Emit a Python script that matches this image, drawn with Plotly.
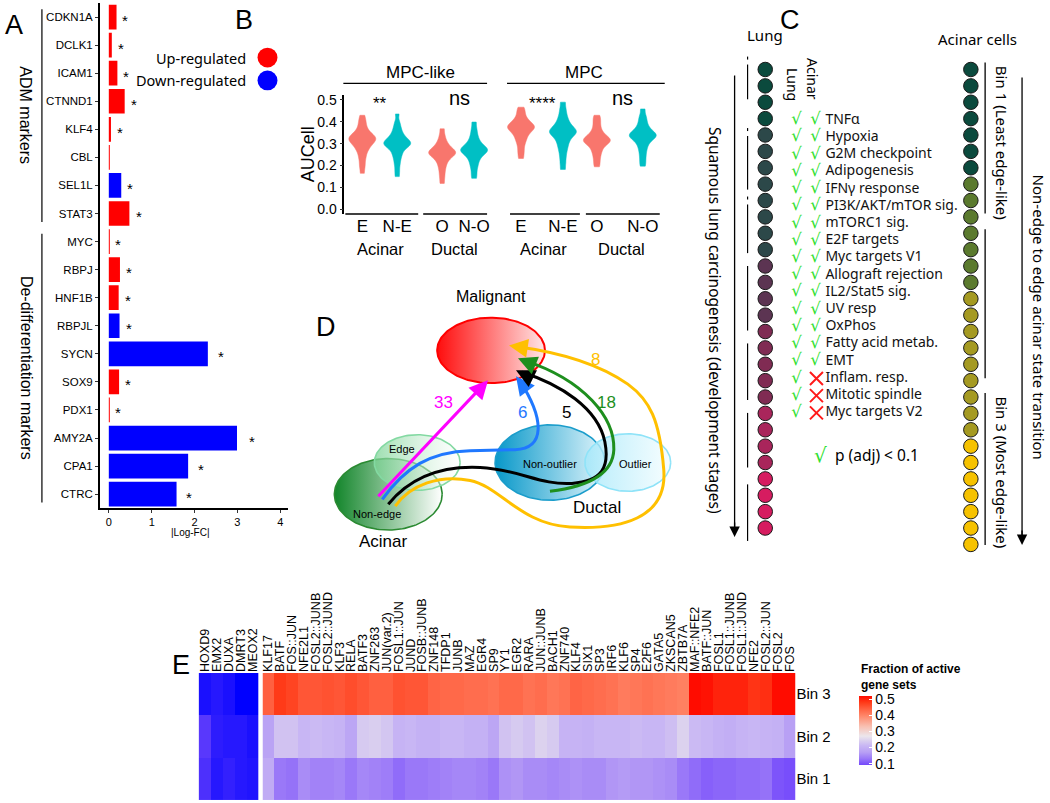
import numpy as np
import plotly.graph_objects as go

W, H = 1050, 803

# ---------------- Panel A data ----------------
genes_A = ['CDKN1A', 'DCLK1', 'ICAM1', 'CTNND1', 'KLF4', 'CBL', 'SEL1L', 'STAT3',
           'MYC', 'RBPJ', 'HNF1B', 'RBPJL', 'SYCN', 'SOX9', 'PDX1', 'AMY2A', 'CPA1', 'CTRC']
logfc_A = [0.18, 0.07, 0.20, 0.37, 0.05, 0.02, 0.29, 0.48, 0.01, 0.26, 0.23, 0.25,
           2.31, 0.24, 0.02, 2.99, 1.85, 1.58]
regulation_A = ['Up', 'Up', 'Up', 'Up', 'Up', 'Up', 'Down', 'Up', 'Up', 'Up', 'Up', 'Down',
                'Down', 'Up', 'Up', 'Down', 'Down', 'Down']
signif_A = ['*', '*', '*', '*', '*', '', '*', '*', '*', '*', '*', '*', '*', '*', '*', '*', '*', '*']
group_names_A = ['ADM markers', 'De-differentiation markers']
group_first_A = ['CDKN1A', 'MYC']
group_last_A = ['STAT3', 'CTRC']
xticks_A = [0, 1, 2, 3, 4]

facets_B = ['MPC-like', 'MPC']
groups_B = ['Acinar', 'Ductal']
ticklabels_B = ['E', 'N-E', 'O', 'N-O', 'E', 'N-E', 'O', 'N-O']
mpclike_E = [0.164, 0.19, 0.21, 0.23, 0.245, 0.26, 0.27, 0.28, 0.287, 0.294, 0.30, 0.305, 0.31, 0.314,
             0.318, 0.322, 0.326, 0.33, 0.334, 0.338, 0.343, 0.35, 0.358, 0.368, 0.38, 0.395, 0.41, 0.43]
mpclike_NE = [0.149, 0.175, 0.20, 0.22, 0.237, 0.25, 0.262, 0.272, 0.28, 0.286, 0.291, 0.295, 0.299,
              0.302, 0.306, 0.31, 0.315, 0.32, 0.326, 0.333, 0.342, 0.352, 0.365, 0.38, 0.40, 0.436]
mpclike_O = [0.118, 0.145, 0.168, 0.188, 0.204, 0.217, 0.228, 0.236, 0.243, 0.248, 0.252, 0.256, 0.26,
             0.264, 0.268, 0.273, 0.279, 0.286, 0.295, 0.306, 0.32, 0.34, 0.368]
mpclike_NO = [0.141, 0.165, 0.188, 0.205, 0.22, 0.232, 0.242, 0.25, 0.256, 0.262, 0.266, 0.27, 0.274,
              0.278, 0.283, 0.289, 0.296, 0.305, 0.316, 0.33, 0.348, 0.37, 0.399]
mpc_E = [0.232, 0.255, 0.275, 0.295, 0.31, 0.322, 0.333, 0.342, 0.35, 0.357, 0.363, 0.368, 0.372, 0.376,
         0.38, 0.384, 0.389, 0.395, 0.402, 0.41, 0.42, 0.435, 0.45, 0.467]
mpc_NE = [0.182, 0.21, 0.235, 0.257, 0.275, 0.29, 0.303, 0.315, 0.325, 0.333, 0.34, 0.346, 0.351, 0.355,
          0.36, 0.365, 0.371, 0.378, 0.386, 0.396, 0.408, 0.422, 0.44, 0.462, 0.49]
mpc_O = [0.194, 0.215, 0.235, 0.252, 0.266, 0.278, 0.288, 0.296, 0.302, 0.307, 0.311, 0.315, 0.319,
         0.323, 0.328, 0.334, 0.341, 0.35, 0.362, 0.377, 0.395, 0.412, 0.43]
mpc_NO = [0.197, 0.22, 0.242, 0.262, 0.279, 0.293, 0.305, 0.314, 0.321, 0.327, 0.332, 0.336, 0.34,
          0.344, 0.349, 0.355, 0.362, 0.371, 0.382, 0.396, 0.412, 0.43, 0.459]
samples_B = [mpclike_E, mpclike_NE, mpclike_O, mpclike_NO, mpc_E, mpc_NE, mpc_O, mpc_NO]
edge_class_B = ['edge', 'non', 'edge', 'non', 'edge', 'non', 'edge', 'non']
signif_B = ['**', 'ns', '****', 'ns']

# ---------------- Panel C data ----------------
lung_stage = [1, 1, 1, 1, 2, 2, 2, 2, 2, 2, 2, 2, 3, 3, 3, 3, 4, 4, 4, 4, 4, 5, 5, 5, 5, 6, 6, 6, 6]
acinar_bin = [1, 1, 1, 1, 1, 1, 1, 2, 2, 2, 2, 2, 2, 2, 3, 3, 3, 3, 3, 3, 3, 3, 3,
              4, 4, 4, 4, 4, 4, 4]
gene_sets = ['TNFα', 'Hypoxia', 'G2M checkpoint', 'Adipogenesis', 'IFNγ response',
             'PI3K/AKT/mTOR sig.', 'mTORC1 sig.', 'E2F targets', 'Myc targets V1',
             'Allograft rejection', 'IL2/Stat5 sig.', 'UV resp', 'OxPhos', 'Fatty acid metab.',
             'EMT', 'Inflam. resp.', 'Mitotic spindle', 'Myc targets V2']
sig_lung = [True, True, True, True, True, True, True, True, True, True, True, True, True, True,
            True, True, True, True]
sig_acinar = [True, True, True, True, True, True, True, True, True, True, True, True, True, True,
              True, False, False, False]

# ---------------- Panel D data ----------------
transition_counts = {'magenta': 33, 'blue': 6, 'black': 5, 'green': 18, 'yellow': 8}

# ---------------- Panel E data ----------------
bins_E = ['Bin 1', 'Bin 2', 'Bin 3']
tf_down = ['HOXD9', 'EMX2', 'DUXA', 'DMRT3', 'MEOX2']
tf_up = ['KLF17', 'BATF', 'FOS::JUN', 'NFE2L1', 'FOSL2::JUNB', 'FOSL2::JUND', 'KLF3', 'RELA',
         'BATF3', 'ZNF263', 'JUN(var.2)', 'FOSL1::JUN', 'JUND', 'FOSB::JUNB', 'ZNF148', 'TFDP1',
         'JUNB', 'MAZ', 'EGR4', 'SP9', 'YY1', 'EGR2', 'RARA', 'JUN::JUNB', 'BACH1', 'ZNF740',
         'KLF4', 'SIX1', 'SP3', 'IRF6', 'KLF6', 'SP4', 'E2F6', 'GATA5', 'ZKSCAN5', 'ZBTB7A',
         'MAF::NFE2', 'BATF::JUN', 'FOSL1', 'FOSL1::JUNB', 'FOSL1::JUND', 'NFE2', 'FOSL2::JUN',
         'FOSL2', 'FOS']
down_bin1 = [0.06, 0.03, 0.04, 0.03, 0.025]
down_bin2 = [0.07, 0.035, 0.03, 0.03, 0.02]
down_bin3 = [0.02, 0.03, 0.02, 0.0, 0.0]
up_bin3 = [0.44, 0.48, 0.47, 0.45, 0.45, 0.455, 0.45, 0.46, 0.45, 0.44, 0.44, 0.455, 0.45, 0.45,
           0.435, 0.43, 0.43, 0.425, 0.425, 0.42, 0.43, 0.43, 0.42, 0.425, 0.415, 0.42, 0.435,
           0.43, 0.425, 0.42, 0.41, 0.415, 0.42, 0.415, 0.41, 0.405, 0.52, 0.515, 0.50, 0.50,
           0.50, 0.485, 0.49, 0.52, 0.52]
up_bin2 = [0.175, 0.225, 0.225, 0.21, 0.215, 0.21, 0.205, 0.18, 0.235, 0.24, 0.23, 0.205, 0.21,
           0.20, 0.20, 0.21, 0.21, 0.20, 0.20, 0.18, 0.225, 0.235, 0.225, 0.245, 0.235, 0.205,
           0.205, 0.20, 0.21, 0.21, 0.21, 0.215, 0.21, 0.21, 0.22, 0.245, 0.215, 0.21, 0.20,
           0.195, 0.205, 0.21, 0.205, 0.20, 0.17]
up_bin1 = [0.19, 0.13, 0.125, 0.15, 0.14, 0.14, 0.145, 0.13, 0.145, 0.14, 0.135, 0.12, 0.13, 0.13,
           0.135, 0.14, 0.145, 0.145, 0.14, 0.13, 0.155, 0.16, 0.15, 0.15, 0.145, 0.15, 0.155,
           0.15, 0.15, 0.16, 0.165, 0.16, 0.16, 0.155, 0.15, 0.13, 0.12, 0.11, 0.115, 0.115, 0.12,
           0.12, 0.125, 0.10, 0.095]
cbar_ticks_E = [0.1, 0.2, 0.3, 0.4, 0.5]

# ---------------- helpers ----------------
ARIAL = 'Liberation Sans, Arial, sans-serif'
NOTO = 'Noto Sans, Open Sans, sans-serif'


def dx(a, b):
    return [a / W, b / W]


def dy(top, bottom):
    return [1 - bottom / H, 1 - top / H]


fig = go.Figure()
shapes = []
annos = []


def ptext(x, y, text, size=14, color='black', family=ARIAL, angle=0, xanchor='center', **kw):
    annos.append(dict(x=x, y=y, xref='x7', yref='y7', text=text, showarrow=False,
                      font=dict(size=size, color=color, family=family), textangle=angle,
                      xanchor=xanchor, yanchor='middle', **kw))


def pline(x0, y0, x1, y1, color='black', width=1.2):
    shapes.append(dict(type='line', x0=x0, y0=y0, x1=x1, y1=y1, xref='x7', yref='y7',
                       line=dict(color=color, width=width)))


def parrow(x, y, tx, ty, color, width=3, size=1.2):
    annos.append(dict(x=x, y=y, ax=tx, ay=ty, xref='x7', yref='y7', axref='x7', ayref='y7',
                      text='', showarrow=True, arrowhead=2, arrowsize=size, arrowwidth=width,
                      arrowcolor=color, standoff=0))


# ================= Panel A =================
reg_colors = {'Up': '#ff0000', 'Down': '#0000ff'}
fig.add_trace(go.Bar(x=logfc_A, y=genes_A, orientation='h', width=0.88,
                     marker=dict(color=[reg_colors[r] for r in regulation_A], line_width=0),
                     xaxis='x', yaxis='y', hoverinfo='skip', showlegend=False))
for g, v, s in zip(genes_A, logfc_A, signif_A):
    if s:
        annos.append(dict(x=v * 1.05 + 0.2, y=g, xref='x', yref='y', text=s, showarrow=False,
                          xanchor='center', font=dict(size=15, family=ARIAL), yshift=-3))
for name, g0, g1 in zip(group_names_A, group_first_A, group_last_A):
    i0, i1 = genes_A.index(g0), genes_A.index(g1)
    shapes.append(dict(type='line', xref='paper', yref='y', x0=41 / W, x1=41 / W,
                       y0=i0 - 0.28, y1=i1 + 0.3, line=dict(color='black', width=1.2)))
    annos.append(dict(x=25 / W, y=(i0 + i1) / 2, xref='paper', yref='y', text=name,
                      xanchor='center', yanchor='middle',
                      showarrow=False, textangle=90, font=dict(size=16, family=ARIAL)))
annos.append(dict(x=190 / W, y=1 - 533 / H, xref='paper', yref='paper', text='|Log-FC|',
                  xanchor='center', yanchor='middle',
                  showarrow=False, font=dict(size=10, family=ARIAL)))
# legend
for lab, yy in [('Up', 55), ('Down', 78)]:
    ptext(247, yy, lab + '-regulated', size=14.5, family=NOTO, xanchor='right')
    shapes.append(dict(type='circle', xref='x7', yref='y7', x0=257, x1=277, y0=yy - 10, y1=yy + 10,
                       fillcolor=reg_colors[lab], line=dict(width=0)))

# ================= Panel B =================
pos_B = [362, 397, 442, 474, 521, 563, 597, 643]
col_B = {'edge': '#F8766D', 'non': '#00BFC4'}
for p, vals, cls in zip(pos_B, samples_B, edge_class_B):
    fig.add_trace(go.Violin(x=[p] * len(vals), y=vals, xaxis='x2', yaxis='y2', width=27,
                            spanmode='hard', points=False, bandwidth=0.014,
                            fillcolor=col_B[cls], line=dict(color=col_B[cls], width=0.5),
                            opacity=1, hoverinfo='skip', showlegend=False, scalemode='width'))
# facet strips
for name, cx, x0, x1 in zip(facets_B, [420, 584], [343, 507], [487, 665]):
    ptext(cx, 70, name, size=17)
    pline(x0, 81, x1, 81, width=1.3)
# sub-group axis lines and labels
for (x0, x1), g in zip([(345, 418), (423, 487), (510, 580), (586, 660)], groups_B * 2):
    pline(x0, 212.7, x1, 212.7, width=1.5)
    ptext((x0 + x1) / 2 - 1, 248, g, size=16.5)
for s, cx in zip(signif_B, [380, 459, 543, 623]):
    if s == 'ns':
        ptext(cx, 96, s, size=20)
    else:
        ptext(cx, 101, s, size=17)
ptext(307, 152, 'AUCell', size=18, angle=-90)

# ================= Panel C =================
stage_colors = {1: '#0b4a3d', 2: '#2c4849', 3: '#5c3452', 4: '#802b53', 5: '#a9255b', 6: '#d61c60'}
bin_colors = {1: '#0b4a3d', 2: '#5b7a2e', 3: '#a59a22', 4: '#f6c200'}
fig.add_trace(go.Scatter(x=[765.7] * len(lung_stage), y=list(range(len(lung_stage))), mode='markers',
                         marker=dict(size=14.5, color=[stage_colors[s] for s in lung_stage],
                                     line=dict(color='#1a1a1a', width=1)),
                         xaxis='x3', yaxis='y3', hoverinfo='skip', showlegend=False))
fig.add_trace(go.Scatter(x=[971.7] * len(acinar_bin), y=list(range(len(acinar_bin))), mode='markers',
                         marker=dict(size=14.5, color=[bin_colors[b] for b in acinar_bin],
                                     line=dict(color='#1a1a1a', width=1)),
                         xaxis='x3', yaxis='y3', hoverinfo='skip', showlegend=False))
rows = list(range(len(gene_sets)))
fig.add_trace(go.Scatter(x=[826] * len(gene_sets), y=rows, mode='text', text=gene_sets,
                         textposition='middle right',
                         textfont=dict(size=14, family=NOTO, color='#111'),
                         xaxis='x4', yaxis='y4', hoverinfo='skip', showlegend=False))
GREEN = '#2fe02f'
fig.add_trace(go.Scatter(x=[797] * sum(sig_lung), y=[r for r, s in zip(rows, sig_lung) if s],
                         mode='text', text=['√'] * sum(sig_lung),
                         textfont=dict(size=16.5, family='DejaVu Sans', color=GREEN),
                         xaxis='x4', yaxis='y4', hoverinfo='skip', showlegend=False))
fig.add_trace(go.Scatter(x=[816] * sum(sig_acinar), y=[r for r, s in zip(rows, sig_acinar) if s],
                         mode='text', text=['√'] * sum(sig_acinar),
                         textfont=dict(size=16.5, family='DejaVu Sans', color=GREEN),
                         xaxis='x4', yaxis='y4', hoverinfo='skip', showlegend=False))
fig.add_trace(go.Scatter(x=[817] * (len(rows) - sum(sig_acinar)),
                         y=[r for r, s in zip(rows, sig_acinar) if not s], mode='markers',
                         marker=dict(symbol='x-thin-open', size=13, color='#ff1a1a',
                                     line=dict(color='#ff1a1a', width=2)),
                         xaxis='x4', yaxis='y4', hoverinfo='skip', showlegend=False))
ptext(765, 32, 'Lung', size=15, family=NOTO)
ptext(978, 36, 'Acinar cells', size=15, family=NOTO)
ptext(793, 82, 'Lung', size=14, family=NOTO, angle=90)
ptext(813, 77, 'Acinar', size=14, family=NOTO, angle=90)
ptext(821, 455, '√', size=20, family='DejaVu Sans', color=GREEN)
ptext(834, 455, 'p (adj) < 0.1', size=15.5, family=NOTO, xanchor='left')
ptext(1003, 141, 'Bin 1 (Least edge-like)', size=15, family=NOTO, angle=90)
ptext(1002, 473, 'Bin 3 (Most edge-like)', size=15, family=NOTO, angle=90)
ptext(1040, 316, 'Non-edge to edge acinar state transition', size=15, family=NOTO, angle=90)
ptext(716, 320, 'Squamous lung carcinogenesis (development stages)', size=15.5, family=NOTO, angle=90)
for y0, y1 in [(60, 212), (228, 378), (393, 546)]:
    pline(986, y0, 986, y1, width=1.3)
pline(1023, 75, 1023, 536, width=1.3)
parrow(1023, 546, 1023, 530, 'black', width=1.3, size=1.6)
pline(735, 73, 735, 528, width=1.3)
parrow(735, 538, 735, 522, 'black', width=1.3, size=1.6)
for y0, y1 in [(54, 57), (62, 97), (126, 129), (134, 188), (195, 198), (203, 252), (265, 330),
               (343, 400), (413, 468), (485, 542)]:
    pline(748, y0, 748, y1, width=1.2)

# ================= Panel D =================
def ellipse(cx, cy, rx, ry, n=160):
    t = np.linspace(0, 2 * np.pi, n)
    return cx + rx * np.cos(t), cy + ry * np.sin(t)


ell_specs = [
    (388, 495, 54, 36, ['#12852a', '#ffffff'], '#2b8a32'),
    (417, 463, 43, 28, ['rgba(125,212,150,0.75)', 'rgba(255,255,255,0.45)'], '#83d9a2'),
    (550, 463, 55, 38, ['#0898c9', '#dff4fb'], '#1b9dcb'),
    (628, 463, 43, 29, ['rgba(165,232,250,0.8)', 'rgba(245,253,255,0.8)'], '#8fe3f8'),
    (491, 350, 54, 33, ['#ff0d0d', '#ffe6e6'], '#ff0000'),
]
for cx, cy, rx, ry, grad, lc in ell_specs:
    ex, ey = ellipse(cx, cy, rx, ry)
    fig.add_trace(go.Scatter(x=ex, y=ey, mode='lines', fill='toself',
                             fillgradient=dict(type='horizontal', colorscale=[[0, grad[0]], [1, grad[1]]]),
                             line=dict(color=lc, width=2 if lc == '#ff0000' else 1.6),
                             xaxis='x7', yaxis='y7', hoverinfo='skip', showlegend=False))

paths = {
    'magenta': ('#ff00ff', 'M 378 497 L 484 384', (488, 380), (478, 391)),
    'blue': ('#1f78ff', 'M 382 500 C 405 468 430 452 470 451 L 515 450 C 545 449 545 420 520 381',
             (516, 376), (525, 388)),
    'black': ('#000000', 'M 388 505 C 410 478 440 466 480 468 C 520 470 540 486 572 484 '
              'C 602 482 610 468 605 442 C 598 408 560 384 522 372', (516, 370), (528, 376)),
    'green': ('#1e8f1e', 'M 550 492 C 582 488 613 478 614 450 C 615 418 585 380 524 360',
              (518, 358), (530, 363)),
    'yellow': ('#ffc000', 'M 395 507 C 410 485 440 475 470 481 C 500 487 520 525 570 528 '
               'C 620 531 668 520 664 470 C 660 420 650 400 628 384 C 600 364 560 352 516 346',
               (509, 345), (522, 347)),
}
for key, (c, pth, tip, tail) in paths.items():
    shapes.append(dict(type='path', path=pth, xref='x7', yref='y7', line=dict(color=c, width=3)))
    parrow(tip[0], tip[1], tail[0], tail[1], c, width=3, size=1.25)
label_pos = {'magenta': (443, 402), 'blue': (522, 413), 'black': (567, 413), 'green': (607, 402),
             'yellow': (596, 359)}
for key, n in transition_counts.items():
    ptext(label_pos[key][0], label_pos[key][1], str(n), size=17, color=paths[key][0])
ptext(491, 296, 'Malignant', size=16)
ptext(402, 449, 'Edge', size=11)
ptext(377, 515, 'Non-edge', size=11)
ptext(383, 543, 'Acinar', size=17)
ptext(550, 464, 'Non-outlier', size=11)
ptext(636, 464, 'Outlier', size=11)
ptext(597, 508, 'Ductal', size=17)

# ================= Panel E =================
cs_vals = [0.09, 0.13, 0.17, 0.21, 0.245, 0.27, 0.33, 0.40, 0.44, 0.48, 0.52]
cs_cols = ['#7348fb', '#9a78f8', '#b8a0f4', '#c8b6f4', '#dcd2ee', '#ece6ec', '#f8c0b2', '#ff8466',
           '#ff6040', '#ff3a18', '#ff0c00']
zmin_E, zmax_E = 0.09, 0.52
colorscale_E = [[(v - zmin_E) / (zmax_E - zmin_E), c] for v, c in zip(cs_vals, cs_cols)]
fig.add_trace(go.Heatmap(z=[down_bin1, down_bin2, down_bin3], x=tf_down, y=bins_E,
                         colorscale=[[0, '#0000ff'], [1, '#7348fb']], zmin=0, zmax=zmin_E,
                         showscale=False, xaxis='x5', yaxis='y5', hoverinfo='skip'))
fig.add_trace(go.Heatmap(z=[up_bin1, up_bin2, up_bin3], x=tf_up, y=bins_E,
                         colorscale=colorscale_E, zmin=zmin_E, zmax=zmax_E,
                         xaxis='x6', yaxis='y6', hoverinfo='skip',
                         colorbar=dict(x=860 / W, xanchor='left', y=1 - 733.2 / H, yanchor='middle',
                                       len=69, lenmode='pixels', thickness=13, ypad=0, xpad=0,
                                       outlinewidth=0, tickvals=cbar_ticks_E, ticks='inside',
                                       tickcolor='white', ticklen=3,
                                       tickfont=dict(size=14, family=ARIAL))))
annos.append(dict(x=860 / W, y=1 - 679 / H, xref='paper', yref='paper', xanchor='left',
                  yanchor='middle', align='left', showarrow=False,
                  text='<b>Fraction of active<br>gene sets</b>', font=dict(size=12, family=ARIAL)))

# panel letters
for lab, x, y in [('A', 13, 22), ('B', 243, 17), ('C', 790, 17), ('D', 326, 326), ('E', 180, 667)]:
    ptext(x, y, lab, size=27)

axis_common = dict(showgrid=False, zeroline=False, fixedrange=True)
fig.update_layout(
    width=W, height=H, autosize=False, margin=dict(l=0, r=0, t=0, b=0),
    paper_bgcolor='white', plot_bgcolor='rgba(0,0,0,0)', showlegend=False,
    violinmode='overlay', font=dict(family=ARIAL, color='black'),
    xaxis=dict(domain=dx(99, 288), range=[-0.21, 4.19], anchor='y', showline=True, linecolor='black',
               linewidth=1.5, ticks='outside', ticklen=3, tickcolor='#333', tickvals=xticks_A,
               tickfont=dict(size=11), **axis_common),
    yaxis=dict(domain=dy(0, 509), type='category', categoryorder='array', categoryarray=genes_A,
               autorange='reversed', anchor='x', showline=True, linecolor='black', linewidth=1.5,
               ticks='outside', ticklen=3, tickcolor='#333', tickfont=dict(size=11.5), **axis_common),
    xaxis2=dict(domain=dx(344, 665), range=[344, 665], anchor='y2', showline=False, ticks='',
                tickvals=pos_B, ticktext=ticklabels_B, tickfont=dict(size=17), **axis_common),
    yaxis2=dict(domain=dy(93, 212.7), range=[-0.0227, 0.5214], anchor='x2', showline=True,
                linecolor='black', linewidth=1.5, ticks='outside', ticklen=3, tickcolor='#333',
                tickvals=[0, 0.1, 0.2, 0.3, 0.4, 0.5], tickformat='.1f', tickfont=dict(size=14),
                **axis_common),
    xaxis3=dict(domain=dx(700, 1050), range=[700, 1050], anchor='y3', visible=False, **axis_common),
    yaxis3=dict(domain=dy(50, 560), range=[(560 - 67) / 16.5, (50 - 67) / 16.5], anchor='x3',
                visible=False, **axis_common),
    xaxis4=dict(domain=dx(700, 1050), range=[700, 1050], anchor='y4', visible=False, **axis_common),
    yaxis4=dict(domain=dy(100, 430), range=[(430 - 118) / 17.35, (100 - 118) / 17.35], anchor='x4',
                visible=False, **axis_common),
    xaxis5=dict(domain=dx(198, 258), anchor='y5', side='top', tickangle=-90, ticks='',
                tickmode='linear', tick0=0, dtick=1,
                tickfont=dict(size=12.5), showline=False, **axis_common),
    yaxis5=dict(domain=dy(675, 803), anchor='x5', visible=False, **axis_common),
    xaxis6=dict(domain=dx(262, 796), anchor='y6', side='top', tickangle=-90, ticks='',
                tickmode='linear', tick0=0, dtick=1,
                tickfont=dict(size=12.5), showline=False, **axis_common),
    yaxis6=dict(domain=dy(675, 803), anchor='x6', side='right', ticks='', showline=False,
                tickfont=dict(size=15), **axis_common),
    xaxis7=dict(domain=[0, 1], range=[0, W], anchor='y7', visible=False, **axis_common),
    yaxis7=dict(domain=[0, 1], range=[H, 0], anchor='x7', visible=False, **axis_common),
    shapes=shapes, annotations=annos,
)

fig.write_html('out.html', config={'displayModeBar': False},
               post_script="document.body.style.margin='0';document.body.style.overflow='hidden';")
